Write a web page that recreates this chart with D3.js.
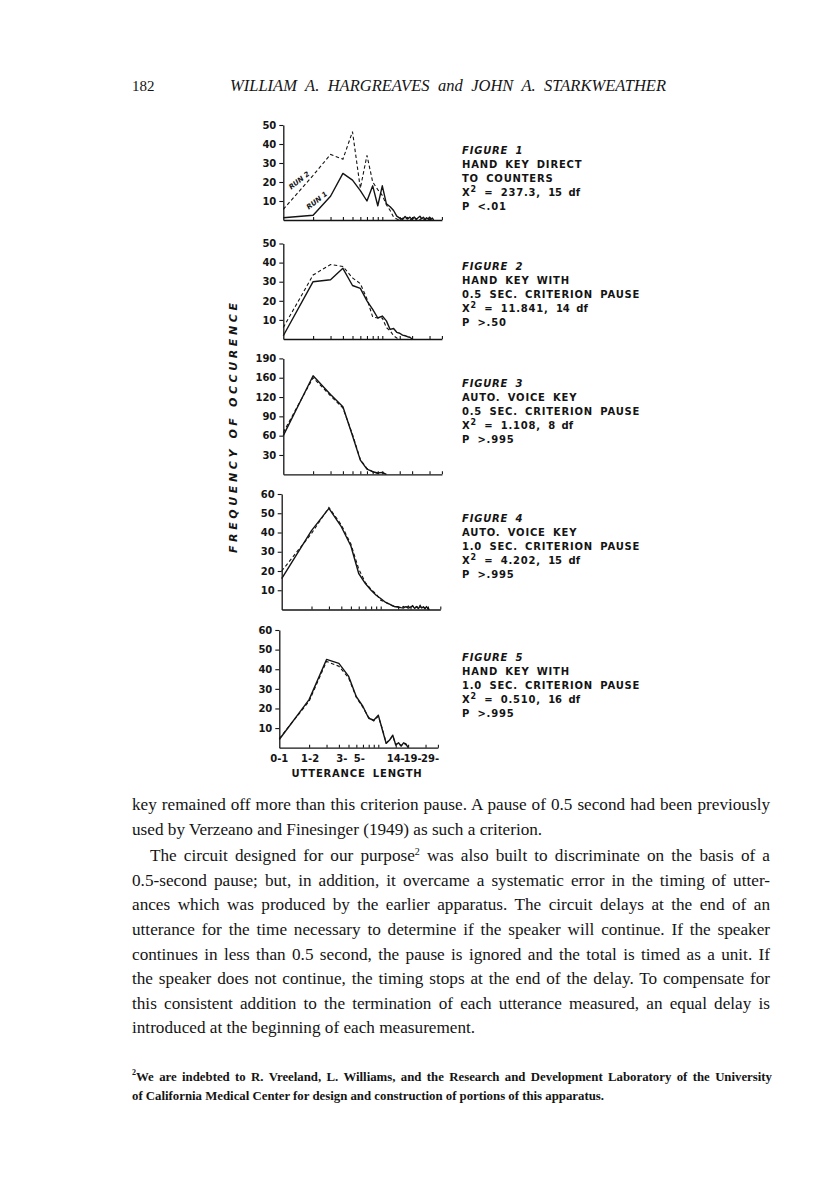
<!DOCTYPE html>
<html>
<head>
<meta charset="utf-8">
<script src="https://cdn.jsdelivr.net/npm/d3@7"></script>
<style>
  body { margin: 0; background: #fff; }
  text { fill: #141414; }
  .axis-label { font-family: "DejaVu Sans", sans-serif; font-weight: bold; font-size: 10px; }
  .caption { font-family: "DejaVu Sans", sans-serif; font-weight: bold; font-size: 10px; letter-spacing: 0.8px; word-spacing: 3px; }
  .serif { font-family: "Liberation Serif", "DejaVu Serif", serif; }
</style>
</head>
<body>
<svg id="page"></svg>
<script>
// utterance-length classes: index i = class starting at i seconds
const xTickSteps = [1, 2, 3, 4, 5, 6, 7, 8, 9, 14, 19, 29, 39];
const xLabelSteps = [0, 1, 3, 5, 14, 19, 29];
const xLabelText = ["0-1", "1-2", "3-", "5-", "14-", "19-", "29-"];

const yTicksFifty = [10, 20, 30, 40, 50];
const yTicksSixty = [10, 20, 30, 40, 50, 60];
const yTicksFig3 = [30, 60, 90, 120, 150, 180];
const yLabelsFig3 = ["30", "60", "90", "120", "160", "190"];

const fig1Solid = [1.2, 2.5, 12.5, 24.5, 21, 15.5, 10, 18, 7.5, 18, 8.5, 7, 5, 2, 1, 0.3, 1.8, 0.5, 1.5, 0.2, 1.6, 0.4, 1.2, 2, 0.6, 1.5, 0.2, 1.2, 0.5, 1.5, 0.3, 1, 0];
const fig1Dashed = [5.6, 23.5, 34.5, 32, 46.5, 16.7, 34, 20, 16, 13, 8, 5, 1.5, 0.5, 0, 1, 0.2, 1.3, 0, 0.8, 1.5, 0.3, 1, 0, 1.2, 0.4, 0, 0.8, 0, 0.5, 0];
const fig2Solid = [1.7, 30, 31, 37, 28, 26.5, 20, 15.5, 11, 12, 9.5, 5, 5.5, 3.5, 3, 2, 1.7, 1.2, 0.9, 0];
const fig2Dashed = [6, 33.5, 39, 38, 32, 29, 21, 11.5, 11, 11, 6, 4.3, 1.7, 0.5, 0];
const fig3Solid = [60, 153, 124, 105, 60, 22, 8, 4, 2, 3, 0];
const fig3Dashed = [65, 150, 122, 103, 62, 23, 9, 4, 1.5, 2.5, 0];
const fig4Solid = [16, 41, 52.5, 43, 33, 18.7, 13.5, 10, 7.4, 5.7, 4, 3.1, 2.2, 1.4, 1.4, 1, 0.8, 1.5, 0.7, 1.2, 1.8, 0.6, 1.4, 0.5, 1.7, 0.8, 1.3, 0.4, 1.5, 0.6, 0];
const fig4Dashed = [20, 39.5, 53, 44, 34, 21, 14, 10.4, 8, 4.8, 4, 2.8, 2, 1.5, 1.2, 0.8, 1.6, 0.5, 1.8, 1, 2, 0.6, 1.6, 1, 2.2, 0.5, 1.4, 0.7, 1.2, 0.3, 0];
const fig5Solid = [4.2, 24.5, 45, 43, 36.5, 26, 21, 15, 14, 16.6, 9, 2.2, 3.9, 6.4, 1.4, 2.5, 0.8, 2.5, 1.9, 0];
const fig5Dashed = [4.7, 23.7, 44, 41.5, 35.7, 25.6, 20.5, 15.4, 13.6, 16, 9.5, 2.5, 4, 6, 1.6, 2.3, 1, 2.3, 1.6, 0];

const figureTitles = ["FIGURE 1", "FIGURE 2", "FIGURE 3", "FIGURE 4", "FIGURE 5"];
const figureLines = [
  ["HAND KEY DIRECT", "TO COUNTERS"],
  ["HAND KEY WITH", "0.5 SEC. CRITERION PAUSE"],
  ["AUTO. VOICE KEY", "0.5 SEC. CRITERION PAUSE"],
  ["AUTO. VOICE KEY", "1.0 SEC. CRITERION PAUSE"],
  ["HAND KEY WITH", "1.0 SEC. CRITERION PAUSE"],
];
const chiValues = ["237.3", "11.841", "1.108", "4.202", "0.510"];
const dfValues = ["15 df", "14 df", "8 df", "15 df", "16 df"];
const pValues = ["P <.01", "P >.50", "P >.995", "P >.995", "P >.995"];

const bodyLines = [
  "key remained off more than this criterion pause. A pause of 0.5 second had been previously",
  "used by Verzeano and Finesinger (1949) as such a criterion.",
  "The circuit designed for our purpose² was also built to discriminate on the basis of a",
  "0.5-second pause; but, in addition, it overcame a systematic error in the timing of utter-",
  "ances which was produced by the earlier apparatus. The circuit delays at the end of an",
  "utterance for the time necessary to determine if the speaker will continue. If the speaker",
  "continues in less than 0.5 second, the pause is ignored and the total is timed as a unit. If",
  "the speaker does not continue, the timing stops at the end of the delay. To compensate for",
  "this consistent addition to the termination of each utterance measured, an equal delay is",
  "introduced at the beginning of each measurement.",
];
const footLines = [
  "²We are indebted to R. Vreeland, L. Williams, and the Research and Development Laboratory of the University",
  "of California Medical Center for design and construction of portions of this apparatus.",
];

const page = d3.select("#page").attr("width", 816).attr("height", 1188);

// layout of the five stacked panels
const panels = [
  { solid: fig1Solid, dashed: fig1Dashed, yMax: 50, yTicks: yTicksFifty, x0: 283.3, base: 220, top: 125, capY: 150 },
  { solid: fig2Solid, dashed: fig2Dashed, yMax: 50, yTicks: yTicksFifty, x0: 283.3, base: 339, top: 243.5, capY: 266 },
  { solid: fig3Solid, dashed: fig3Dashed, yMax: 180, yTicks: yTicksFig3, yLabels: yLabelsFig3, x0: 283.3, base: 474.3, top: 358.4, capY: 383 },
  { solid: fig4Solid, dashed: fig4Dashed, yMax: 60, yTicks: yTicksSixty, x0: 281.7, base: 609.5, top: 494, capY: 518 },
  { solid: fig5Solid, dashed: fig5Dashed, yMax: 60, yTicks: yTicksSixty, x0: 279.3, base: 747.7, top: 630, capY: 657 },
];
const xLabelNudge = [0, 1, 3, 3, 0, 4.5, 4.5];

const drawPanel = (p, idx) => {
  const g = page.append("g");
  const x = d3.scaleLog().domain([1, 40]).range([p.x0, p.x0 + 99 * Math.log10(40)]);
  const y = d3.scaleLinear().domain([0, p.yMax]).range([p.base, p.top]);

  const yAxis = g.append("g")
    .attr("transform", "translate(" + p.x0 + ",0)")
    .call(d3.axisLeft(y).tickValues(p.yTicks).tickSize(4).tickSizeOuter(0).tickPadding(3)
      .tickFormat((d) => p.yLabels ? p.yLabels[p.yTicks.indexOf(d)] : d));
  yAxis.selectAll("text").attr("class", "axis-label").attr("font-size", null).attr("font-family", null);

  g.append("g")
    .attr("transform", "translate(0," + p.base + ")")
    .call(d3.axisBottom(x).tickValues(xTickSteps.map((t) => t + 1)).tickSize(-3).tickSizeOuter(0).tickFormat(""));

  g.selectAll(".domain").attr("stroke", "#141414").attr("stroke-width", 1.3);
  g.selectAll(".tick line").attr("stroke", "#141414").attr("stroke-width", 1.1);

  const line = d3.line()
    .x((d, i) => x(i + 1))
    .y((d) => y(d));

  g.append("path").datum(p.dashed)
    .attr("d", line).attr("fill", "none")
    .attr("stroke", "#141414").attr("stroke-width", 1.1).attr("stroke-dasharray", "3.5,2.5");
  g.append("path").datum(p.solid)
    .attr("d", line).attr("fill", "none")
    .attr("stroke", "#141414").attr("stroke-width", 1.4).attr("stroke-linejoin", "round");

  if (idx === 0) {
    // run labels written along the first segments
    [[p.dashed, "RUN 2", 0.68], [p.solid, "RUN 1", 1.47]].forEach(([series, label, t]) => {
      const i0 = Math.floor(t);
      const f = t - i0;
      const xa = x(i0 + 1), xb = x(i0 + 2);
      const ya = y(series[i0]), yb = y(series[i0 + 1]);
      const px = xa + (xb - xa) * f, py = ya + (yb - ya) * f;
      const ang = Math.atan2(yb - ya, xb - xa) * 180 / Math.PI * 0.8;
      g.append("text")
        .attr("transform", "translate(" + (px - 3) + "," + (py - 4) + ") rotate(" + ang + ")")
        .attr("text-anchor", "middle")
        .attr("font-family", "DejaVu Sans").attr("font-weight", "bold").attr("font-style", "italic")
        .attr("font-size", 7)
        .text(label);
    });
  }

  if (idx === panels.length - 1) {
    g.selectAll(".xlab").data(xLabelSteps).enter().append("text")
      .attr("class", "axis-label")
      .attr("font-size", 9.5)
      .attr("x", (t, i) => x(t + 1) + xLabelNudge[i])
      .attr("y", p.base + 14)
      .attr("text-anchor", "middle")
      .text((t, i) => xLabelText[i]);
    g.append("text").attr("class", "caption")
      .attr("x", 357).attr("y", p.base + 29).attr("text-anchor", "middle")
      .text("UTTERANCE LENGTH");
  }

  // caption block on the right
  const cap = g.append("g").attr("transform", "translate(462," + (p.capY + 4) + ")");
  cap.append("text").attr("class", "caption").attr("font-style", "italic").text(figureTitles[idx]);
  figureLines[idx].forEach((ln, k) => {
    cap.append("text").attr("class", "caption").attr("y", 14 * (k + 1)).text(ln);
  });
  const chi = cap.append("text").attr("class", "caption").attr("y", 42);
  chi.append("tspan").text("X");
  chi.append("tspan").attr("font-size", 8).attr("dy", -4).text("2");
  chi.append("tspan").attr("dy", 4).text(" = " + chiValues[idx] + ",  ");
  chi.append("tspan").attr("letter-spacing", 0).text(dfValues[idx]);
  cap.append("text").attr("class", "caption").attr("y", 56).text(pValues[idx]);
};

// spread a line to a width by widening the word gaps
const justify = (sel, width) => {
  const natural = sel.node().getComputedTextLength();
  const gaps = (sel.text().match(/ /g) || []).length;
  if (gaps > 0) sel.attr("word-spacing", (width - natural) / gaps);
};

const drawHeader = () => {
  page.append("text").attr("class", "serif").attr("x", 132).attr("y", 91)
    .attr("font-size", 15).text("182");
  const title = page.append("text").attr("class", "serif").attr("x", 230).attr("y", 91)
    .attr("font-size", 16.5).attr("font-style", "italic")
    .text("WILLIAM A. HARGREAVES and JOHN A. STARKWEATHER");
  justify(title, 436);
  page.append("text")
    .attr("transform", "translate(237,428) rotate(-90)")
    .attr("text-anchor", "middle")
    .attr("font-family", "DejaVu Sans").attr("font-weight", "bold").attr("font-style", "italic")
    .attr("font-size", 11)
    .attr("textLength", 250).attr("lengthAdjust", "spacing")
    .text("FREQUENCY  OF  OCCURENCE");
};

const addSuperText = (sel, str, supSize) => {
  str.split("²").forEach((part, k) => {
    if (k > 0) sel.append("tspan").attr("font-size", supSize).attr("dy", -6).text("2");
    sel.append("tspan").attr("dy", k > 0 ? 6 : 0).text(part);
  });
};

const drawBody = () => {
  const baselines = [810, 835, 861, 886, 910, 935, 960, 984, 1009, 1033];
  const lastLines = [1, 9];
  bodyLines.forEach((ln, i) => {
    const x0 = i === 2 ? 150 : 132;
    const t = page.append("text").attr("class", "serif").attr("x", x0).attr("y", baselines[i])
      .attr("font-size", 17.2);
    addSuperText(t, ln, 10);
    if (lastLines.indexOf(i) < 0) justify(t, 770 - x0);
  });
  footLines.forEach((ln, i) => {
    const t = page.append("text").attr("class", "serif").attr("x", 132).attr("y", 1081 + 19 * i)
      .attr("font-size", 12.8).attr("font-weight", "bold");
    addSuperText(t, ln, 8);
    if (i === 0) justify(t, 640);
  });
};

drawHeader();
panels.forEach(drawPanel);
drawBody();
</script>
</body>
</html>
